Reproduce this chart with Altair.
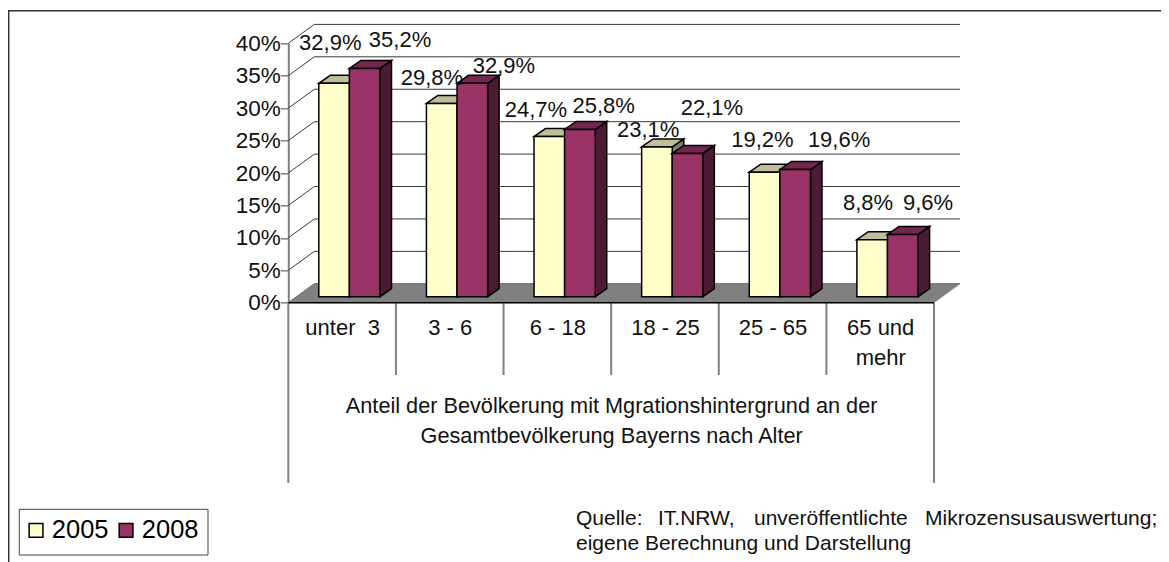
import altair as alt
import pandas as pd

CATEGORIES = ["unter\u00a0\u00a03", "3 - 6", "6 - 18", "18 - 25", "25 - 65", ["65 und", "mehr"]]
SERIES = ["2005", "2008"]
VALUES_2005 = [32.9, 29.8, 24.7, 23.1, 19.2, 8.8]
VALUES_2008 = [35.2, 32.9, 25.8, 22.1, 19.6, 9.6]
Y_TICKS = [0, 5, 10, 15, 20, 25, 30, 35, 40]
AXIS_TITLE = ["Anteil der Bevölkerung mit Mgrationshintergrund an der",
              "Gesamtbevölkerung Bayerns nach Alter"]
# manual data-label placement, as in the source (px right of bar centre / px above bar top)
LABEL_DX_2005 = [-3.8, -9.8, -13.4, -8.8, -2.1, -4.1]
LABEL_UP_2005 = [40, 25.1, 27, 16.9, 32.5, 36.3]
LABEL_DX_2008 = [35.3, 31.6, 23.7, 24.3, 43.9, 25.3]
LABEL_UP_2008 = [28.4, 17.6, 22.9, 45.7, 29.9, 31.1]

FONT = "Liberation Sans"
PLOT_W, PLOT_H = 645.7, 259.4
PX_X = PLOT_W / 6          # px per category
PX_Y = PLOT_H / 40         # px per percent
WALL_DX = 26 / PX_X
WALL_DY = 18.9 / PX_Y
BAR_DX = 11.5 / PX_X
BAR_DY = 8 / PX_Y
BAR_BASE = 6 / PX_Y
BAR_START = 30.5 / PX_X
BAR_W = 30.6 / PX_X
TICK_SHORT = -(375 - 302.7) / PX_Y
TICK_LONG = -(483 - 302.7) / PX_Y

xs = alt.Scale(domain=[0, 6], nice=False, zero=False)
ys = alt.Scale(domain=[0, 40], nice=False, zero=False)

y_axis = alt.Axis(values=Y_TICKS, labelExpr="datum.value + '%'", grid=False, tickSize=8,
                  tickColor="#808080", tickWidth=1.5, domainColor="#808080", domainWidth=2,
                  labelPadding=0, labelFont=FONT, labelFontSize=22.5, labelColor="#111111",
                  labelFlush=False, labelOverlap=False, title=None)
cat_js = "[" + ",".join(
    ("[" + ",".join(f"'{p}'" for p in c) + "]") if isinstance(c, list) else f"'{c}'"
    for c in CATEGORIES) + "]"
x_axis = alt.Axis(values=[i + 0.5 for i in range(6)],
                  labelExpr=f"{cat_js}[floor(datum.value)]", grid=False, ticks=False, domain=False,
                  labelPadding=15, labelFont=FONT, labelFontSize=22, labelColor="#111111",
                  labelAngle=0, labelBaseline="top", labelLineHeight=30, labelOverlap=False,
                  labelFlush=False,
                  title=AXIS_TITLE, titleFont=FONT, titleFontSize=21.7, titleFontWeight="normal",
                  titleColor="#111111", titlePadding=27, titleLineHeight=30, titleBaseline="top")


def X(f):
    return alt.X(f, type="quantitative", scale=xs, axis=x_axis)


def Y(f):
    return alt.Y(f, type="quantitative", scale=ys, axis=y_axis, stack=None)


def parallelogram(pid, x0, x1, y, dx, dy):
    return [
        dict(id=pid, x=x0, top=y, low=y),
        dict(id=pid, x=x0 + dx, top=y + dy, low=y),
        dict(id=pid, x=x1, top=y + dy, low=y),
        dict(id=pid, x=x1 + dx, top=y + dy, low=y + dy),
    ]


def face(rows, fill, stroke="black", sw=1.5):
    return alt.Chart(pd.DataFrame(rows)).mark_area(
        fill=fill, stroke=stroke, strokeWidth=sw, interpolate="linear"
    ).encode(x=X("x"), y=Y("top"), y2=alt.Y2("low"), detail="id:N")


layers = []

# category separators
sep = pd.DataFrame({"x": list(range(7)),
                    "a": [0] * 7,
                    "b": [TICK_LONG if i in (0, 6) else TICK_SHORT for i in range(7)]})
layers.append(alt.Chart(sep).mark_rule(color="#808080", strokeWidth=2).encode(
    x=X("x"), y=Y("a"), y2=alt.Y2("b")))

# wall grid
grid = pd.DataFrame({"v": Y_TICKS})
grid["back"] = grid["v"] + WALL_DY
grid["x0"], grid["x1"], grid["x2"] = 0.0, WALL_DX, 6 + WALL_DX
layers.append(alt.Chart(grid).mark_rule(color="#3a3a3a", strokeWidth=1).encode(
    x=X("x1"), x2=alt.X2("x2"), y=Y("back")))
layers.append(alt.Chart(grid).mark_rule(color="#3a3a3a", strokeWidth=1).encode(
    x=X("x0"), x2=alt.X2("x1"), y=Y("v"), y2=alt.Y2("back")))

# floor
layers.append(face(parallelogram("floor", 0, 6, 0, WALL_DX, WALL_DY), "#808080", stroke="#808080", sw=0.5))
zero = pd.DataFrame({"a": [0.0], "b": [6.0], "v": [0.0]})
layers.append(alt.Chart(zero).mark_rule(color="black", strokeWidth=1.5).encode(
    x=X("a"), x2=alt.X2("b"), y=Y("v")))

# bars, series by series so that later faces sit on top
palette = [("#FFFFCC", "#BFBF99", "#808066"), ("#993366", "#732650", "#4D1A33")]
label_rows = []
for s, (vals, ldx, lup) in enumerate([(VALUES_2005, LABEL_DX_2005, LABEL_UP_2005),
                                      (VALUES_2008, LABEL_DX_2008, LABEL_UP_2008)]):
    front, top, side = palette[s]
    tops, sides, fronts = [], [], []
    for i, v in enumerate(vals):
        x0 = i + BAR_START + s * BAR_W
        x1 = x0 + BAR_W
        vt = v + BAR_BASE
        tops += parallelogram(f"{s}-{i}", x0, x1, vt, BAR_DX, BAR_DY)
        sides += [dict(id=f"{s}-{i}", x=x1, top=vt, low=BAR_BASE),
                  dict(id=f"{s}-{i}", x=x1 + BAR_DX, top=vt + BAR_DY, low=BAR_BASE + BAR_DY)]
        fronts.append(dict(x=x0, x2=x1, top=vt, low=BAR_BASE, series=SERIES[s]))
        label_rows.append(dict(
            x=(x0 + x1) / 2 + ldx[i] / PX_X, y=vt + lup[i] / PX_Y,
            text=f"{v:.1f}".replace(".", ",") + "%"))
    layers.append(face(sides, side))
    layers.append(face(tops, top))
    layers.append(alt.Chart(pd.DataFrame(fronts)).mark_rect(stroke="black", strokeWidth=1.5).encode(
        x=X("x"), x2=alt.X2("x2"), y=Y("top"), y2=alt.Y2("low"),
        color=alt.Color("series:N",
                        scale=alt.Scale(domain=SERIES, range=[palette[0][0], palette[1][0]]),
                        legend=alt.Legend(
                            orient="none", legendX=-273, legendY=466, direction="horizontal",
                            title=None, symbolType="square", symbolSize=190,
                            symbolStrokeColor="black", symbolStrokeWidth=1.5,
                            labelFont=FONT, labelFontSize=25.5, labelColor="black",
                            labelOffset=3, columnPadding=4, padding=8))))

layers.append(alt.Chart(pd.DataFrame(label_rows)).mark_text(
    font=FONT, fontSize=22, color="#111111", baseline="middle", align="center"
).encode(x=X("x"), y=Y("y"), text="text:N"))

# outer frame
layers.append(alt.Chart(zero).mark_rule(color="#333333", strokeWidth=1.5).encode(
    x=alt.value(-280.3), x2=alt.value(872.7), y=alt.value(-32.5)))
layers.append(alt.Chart(zero).mark_rule(color="#333333", strokeWidth=1.5).encode(
    x=alt.value(-279.6), y=alt.value(-33), y2=alt.value(518.7)))

# legend frame
layers.append(alt.Chart(zero).mark_rect(fillOpacity=0, stroke="#444444", strokeWidth=1).encode(
    x=alt.value(-269), x2=alt.value(-80.3), y=alt.value(466), y2=alt.value(511.7)))

# source note, justified first line word by word
SOURCE_LINE1 = [("Quelle:", 287.7), ("IT.NRW,", 369.7), ("unveröffentlichte", 465.7), ("Mikrozensusauswertung;", 636.7)]
SOURCE_LINE2 = "eigene Berechnung und Darstellung"
for word, px in SOURCE_LINE1:
    layers.append(alt.Chart(zero).mark_text(
        font=FONT, fontSize=21, color="#111111", align="left", baseline="alphabetic"
    ).encode(x=alt.value(px), y=alt.value(481.7), text=alt.value(word)))
layers.append(alt.Chart(zero).mark_text(
    font=FONT, fontSize=21, color="#111111", align="left", baseline="alphabetic"
).encode(x=alt.value(287.7), y=alt.value(506.7), text=alt.value(SOURCE_LINE2)))

chart = alt.layer(*layers).properties(
    width=PLOT_W, height=PLOT_H,
    autosize=alt.AutoSizeParams(type="none"),
    padding={"left": 280.3, "top": 35.3, "right": 227, "bottom": 259.3},
    background="white",
).configure_view(stroke=None)

chart.save("out.html", embed_options={"renderer": "svg", "actions": False})
